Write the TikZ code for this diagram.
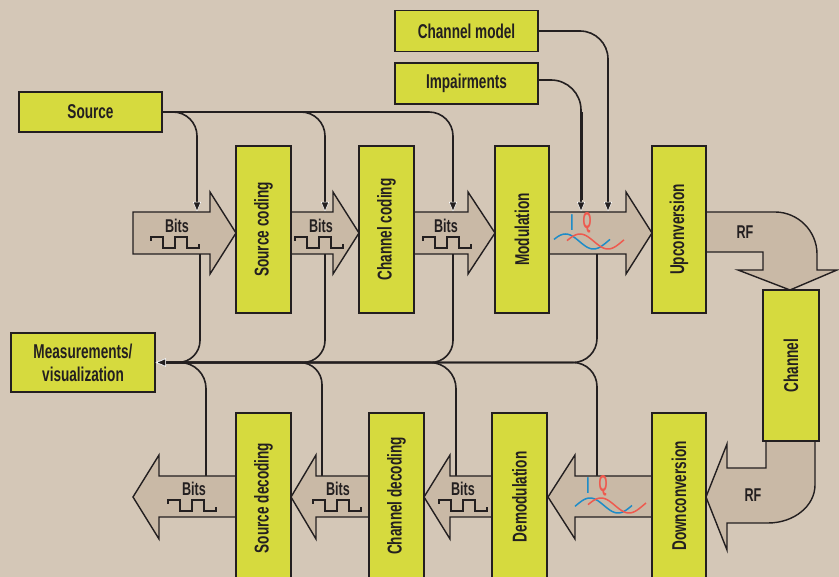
\documentclass[tikz,border=0pt]{standalone}
\usepackage{fontspec}
\newfontfamily\labfont[FakeStretch=0.68]{Liberation Sans}
\newfontfamily\iqfont[FakeStretch=0.5]{Liberation Sans}
\usetikzlibrary{arrows.meta}
\definecolor{bgc}{HTML}{D4C7B7}
\definecolor{arrc}{HTML}{C9B9A6}
\definecolor{boxc}{HTML}{D6DA3E}
\definecolor{linec}{HTML}{231F20}
\definecolor{iblue}{HTML}{1E8CC8}
\definecolor{qred}{HTML}{EE5A4F}
\newcommand{\lab}{\labfont\bfseries\fontsize{20}{23}\selectfont}
\newcommand{\labs}{\labfont\bfseries\fontsize{18.5}{22}\selectfont}
\newcommand{\labiq}{\iqfont\bfseries\fontsize{23}{24}\selectfont}
\begin{document}
\begin{tikzpicture}[x=1pt,y=-1pt,
  box/.style={draw=linec, line width=1.8pt, fill=boxc, inner sep=0pt, font=\lab, text=linec, align=center},
  rotlab/.style={font=\lab, text=linec, inner sep=0pt},
  blk/.style={draw=linec, line width=1.4pt, fill=arrc, line join=miter},
  conn/.style={draw=linec, line width=1.6pt},
  ctip/.style={-{Triangle[length=10pt,width=8pt,line width=0.5pt,color=white,fill=linec]}},
  wav/.style={draw=linec, line width=1.4pt},
  bitlab/.style={font=\labs, text=linec, inner sep=0pt},
  iqlab/.style={font=\labiq, inner sep=0pt},
  sine/.style={line width=1.5pt, smooth, samples=40},
  pics/sqw/.style={code={\draw[wav] (0,4) -- (0,0) -- (12,0) -- (12,11) -- (24,11) -- (24,0) -- (36,0) -- (36,11) -- (48,11) -- (48,7);}},
]
\useasboundingbox (0,0) rectangle (839,577);
\clip (0,0) rectangle (839,577);
\fill[bgc] (0,0) rectangle (839,577);

% ---------- boxes (positions) ----------
\node[box, minimum width=143pt, minimum height=40pt] (src) at (90.5,112) {Source};
\node[box, minimum width=143pt, minimum height=41pt] (cm) at (466.5,31) {Channel model};
\node[box, minimum width=143pt, minimum height=41pt] (imp) at (466.5,83.5) {Impairments};
\node[box, minimum width=144pt, minimum height=59pt] (meas) at (83,362.5) {Measurements/\\visualization};

% ---------- coordinates for connector ends ----------
\coordinate (s1) at (197,212);
\coordinate (s2) at (325,212);
\coordinate (s3) at (453,212);
\coordinate (imq) at (581,212);
\coordinate (cmq) at (608,212);
\coordinate (u1) at (200,254);
\coordinate (u2) at (325,254);
\coordinate (u3) at (453,254);
\coordinate (u4) at (597,254);
\coordinate (d1) at (206,476);
\coordinate (d2) at (322,476);
\coordinate (d3) at (456,476);
\coordinate (d4) at (597,476);

% ---------- connectors ----------
\draw[conn, ctip, rounded corners=24pt] (src.east) -| (s1);
\draw[conn, ctip, rounded corners=24pt] (src.east) -| (s2);
\draw[conn, ctip, rounded corners=24pt] (src.east) -| (s3);
\draw[conn, ctip, rounded corners=28pt] (cm.east) -| (cmq);
\draw[conn, ctip, rounded corners=30pt] ([yshift=3.5pt]imp.east) -| (imq);
\draw[linec, line width=3pt] (581,112) -- (581,200);

\draw[conn, ctip, rounded corners=22pt] (u1) |- (meas.east);
\draw[conn, ctip, rounded corners=22pt] (u2) |- (meas.east);
\draw[conn, ctip, rounded corners=22pt] (u3) |- (meas.east);
\draw[conn, ctip, rounded corners=24pt] (u4) |- (meas.east);
\draw[conn, ctip, rounded corners=26pt] (d1) |- (meas.east);
\draw[conn, ctip, rounded corners=22pt] (d2) |- (meas.east);
\draw[conn, ctip, rounded corners=26pt] (d3) |- (meas.east);
\draw[conn, ctip, rounded corners=24pt] (d4) |- (meas.east);

% ---------- block arrows, top row ----------
\draw[blk] (133,212) -- (210,212) -- (210,192) -- (236,233) -- (210,274) -- (210,254) -- (133,254) -- cycle;
\draw[blk] (291,212) -- (333,212) -- (333,192) -- (359,233) -- (333,274) -- (333,254) -- (291,254) -- cycle;
\draw[blk] (414,212) -- (468,212) -- (468,192) -- (495,233) -- (468,274) -- (468,254) -- (414,254) -- cycle;
\draw[blk] (549,212) -- (626,212) -- (626,192) -- (652,233) -- (626,274) -- (626,254) -- (549,254) -- cycle;
% ---------- block arrows, bottom row ----------
\draw[blk] (652,476) -- (575,476) -- (575,455) -- (548,497) -- (575,539) -- (575,517) -- (652,517) -- cycle;
\draw[blk] (492,476) -- (450,476) -- (450,455) -- (424,497) -- (450,539) -- (450,517) -- (492,517) -- cycle;
\draw[blk] (369,476) -- (316,476) -- (316,455) -- (291,497) -- (316,539) -- (316,517) -- (369,517) -- cycle;
\draw[blk] (237,476) -- (159,476) -- (159,455) -- (133,497) -- (159,539) -- (159,517) -- (237,517) -- cycle;
% ---------- RF bent arrows ----------
\draw[blk] (706,212) -- (775,212) .. controls (798,212) and (817,231) .. (817,254) -- (817,270) -- (837,270) -- (790,290) -- (738,270) -- (763,270) -- (763,252) -- (706,252) -- cycle;
\draw[blk] (766,441) -- (766,468) -- (727,468) -- (727,444) -- (706,497) -- (727,550) -- (727,523) -- (768,523) .. controls (794,523) and (815,506) .. (815,485) -- (815,441) -- cycle;

% ---------- processing boxes ----------
\node[box, minimum width=55pt, minimum height=167pt] (scod) at (263.5,229.5) {\rotatebox{90}{Source coding}};
\node[box, minimum width=55pt, minimum height=167pt] (ccod) at (386.5,229.5) {\rotatebox{90}{Channel coding}};
\node[box, minimum width=54pt, minimum height=167pt] (mod) at (522,229.5) {\rotatebox{90}{Modulation}};
\node[box, minimum width=54pt, minimum height=167pt] (up) at (679,229.5) {\rotatebox{90}{Upconversion}};
\node[box, minimum width=56pt, minimum height=151pt] (chan) at (791,365.5) {\rotatebox{90}{Channel}};
\node[box, minimum width=55pt, minimum height=190pt] (sdec) at (263.5,508) {};
\node[box, minimum width=55pt, minimum height=190pt] (cdec) at (396.5,508) {};
\node[box, minimum width=55pt, minimum height=190pt] (dem) at (519.5,508) {};
\node[box, minimum width=54pt, minimum height=190pt] (down) at (679,508) {};
\node[rotlab] (sdect) at (263.5,498) {\rotatebox{90}{Source decoding}};
\node[rotlab] (cdect) at (396.5,496) {\rotatebox{90}{Channel decoding}};
\node[rotlab] (demt) at (519.5,497) {\rotatebox{90}{Demodulation}};
\node[rotlab] (downt) at (679,496) {\rotatebox{90}{Downconversion}};

% ---------- labels in arrows ----------
\node[bitlab] (b1) at (177,226) {Bits};
\node[bitlab] (b2) at (321,226) {Bits};
\node[bitlab] (b3) at (446,226) {Bits};
\node[bitlab] (b4) at (194,489) {Bits};
\node[bitlab] (b5) at (338,489) {Bits};
\node[bitlab] (b6) at (463,489) {Bits};
\pic at (151,237) {sqw};
\pic at (295,237) {sqw};
\pic at (423,237) {sqw};
\pic at (168,500) {sqw};
\pic at (313,500) {sqw};
\pic at (439,500) {sqw};

\node[bitlab] (rf1) at (745,232) {RF};
\node[bitlab] (rf2) at (753,495) {RF};

% ---------- I/Q ----------
\node[iqlab, text=iblue] (i1) at (572,222.5) {I};
\node[iqlab, text=qred] (q1) at (587,222.5) {Q};
\draw[iblue, sine, domain=554:610] plot (\x, {241.5-7.5*sin(6.4286*(\x-551.5))});
\draw[qred, sine, domain=567:624] plot (\x, {241.5-7.5*sin(6.4286*(\x-566))});
\node[iqlab, text=iblue] (i2) at (588,486) {I};
\node[iqlab, text=qred] (q2) at (603,486) {Q};
\draw[iblue, sine, domain=575:632] plot (\x, {505.5-7.5*sin(6.4286*(\x-576))});
\draw[qred, sine, domain=588:646] plot (\x, {505.5-7.5*sin(6.4286*(\x-587))});
\end{tikzpicture}
\end{document}
